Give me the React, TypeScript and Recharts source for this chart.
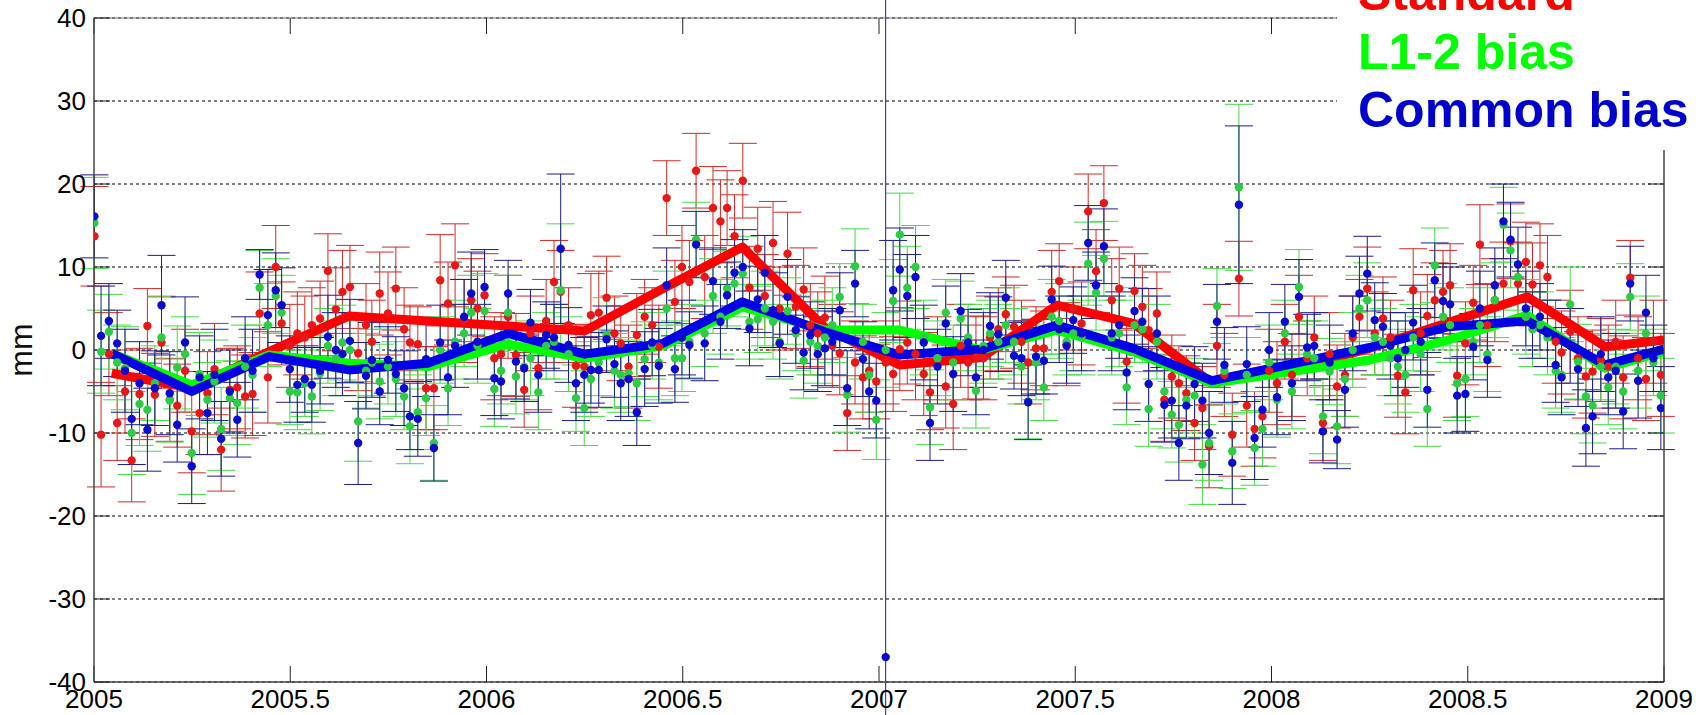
import { CartesianGrid, ComposedChart, ErrorBar, Line, Scatter, XAxis, YAxis } from "recharts";

// weekly solution epochs (decimal year)
const epochs = [
  2005.001, 2005.018, 2005.038, 2005.059, 2005.079, 2005.096, 2005.116, 2005.136, 2005.155, 2005.172,
  2005.193, 2005.212, 2005.232, 2005.249, 2005.269, 2005.289, 2005.307, 2005.324, 2005.346, 2005.365,
  2005.385, 2005.404, 2005.422, 2005.443, 2005.463, 2005.478, 2005.499, 2005.518, 2005.537, 2005.555,
  2005.576, 2005.596, 2005.616, 2005.633, 2005.652, 2005.673, 2005.693, 2005.708, 2005.728, 2005.749,
  2005.769, 2005.790, 2005.805, 2005.825, 2005.846, 2005.866, 2005.882, 2005.902, 2005.920, 2005.943,
  2005.961, 2005.977, 2005.995,
  2006.020, 2006.037, 2006.055, 2006.075, 2006.096, 2006.112, 2006.132, 2006.152, 2006.172, 2006.189,
  2006.209, 2006.228, 2006.249, 2006.266, 2006.286, 2006.306, 2006.326, 2006.342, 2006.362, 2006.383,
  2006.403, 2006.422, 2006.439, 2006.459, 2006.480, 2006.498, 2006.517, 2006.534, 2006.556, 2006.577,
  2006.596, 2006.613, 2006.632, 2006.653, 2006.670, 2006.691, 2006.709, 2006.730, 2006.747, 2006.767,
  2006.788, 2006.808, 2006.825, 2006.844, 2006.862, 2006.881, 2006.900, 2006.919, 2006.939, 2006.959,
  2006.975, 2006.993,
  2007.017, 2007.036, 2007.053, 2007.072, 2007.093, 2007.114, 2007.130, 2007.149, 2007.170, 2007.189,
  2007.208, 2007.227, 2007.247, 2007.266, 2007.283, 2007.304, 2007.323, 2007.344, 2007.363, 2007.380,
  2007.400, 2007.420, 2007.440, 2007.459, 2007.478, 2007.495, 2007.516, 2007.533, 2007.553, 2007.573,
  2007.593, 2007.612, 2007.631, 2007.651, 2007.671, 2007.687, 2007.708, 2007.727, 2007.746, 2007.764,
  2007.783, 2007.804, 2007.824, 2007.841, 2007.861, 2007.880, 2007.900, 2007.917, 2007.937, 2007.957,
  2007.977,
  2007.994, 2008.014, 2008.034, 2008.052, 2008.070, 2008.091, 2008.109, 2008.131, 2008.148, 2008.167,
  2008.187, 2008.207, 2008.224, 2008.244, 2008.263, 2008.284, 2008.303, 2008.322, 2008.341, 2008.361,
  2008.380, 2008.397, 2008.416, 2008.437, 2008.455, 2008.473, 2008.494, 2008.514, 2008.531, 2008.550,
  2008.569, 2008.591, 2008.609, 2008.628, 2008.648, 2008.665, 2008.684, 2008.703, 2008.724, 2008.739,
  2008.761, 2008.781, 2008.801, 2008.818, 2008.839, 2008.858, 2008.877, 2008.896, 2008.914, 2008.934,
  2008.954, 2008.973, 2008.992,
];

// mm
const standardMm = [
  13.7, -10.2, -0.5, -8.8, -5.0, -13.3, -5.3, 2.9, -5.4, 0.9,
  -6.0, -6.7, -2.5, -9.8, -7.6, -5.2, -2.3, -12.0, -4.8, -4.5,
  -5.6, -5.3, 4.4, -3.3, 10.0, 3.2, 0.5, 2.0, 1.5, 3.0,
  3.8, 9.5, 4.9, 7.0, 7.6, -0.4, 3.0, 1.0, 6.8, 4.4,
  7.4, 2.5, 0.9, 0.7, -4.6, -4.6, 8.4, 5.6, 10.2, 3.5,
  6.0, 5.0, 6.6,
  -1.0, -0.5, 4.0, -0.6, -4.8, 2.0, -2.2, 3.5, 8.2, 7.0,
  3.0, -1.9, -2.0, 4.2, 4.5, 6.3, 2.0, 0.8, -2.0, 1.8,
  4.0, 3.0, 0.4, 18.3, 5.8, 10.0, 8.2, 21.6, 8.8, 17.1,
  15.5, 17.1, 13.7, 20.4, 7.5, 12.2, 6.5, 12.9, 5.0, 11.6,
  5.2, 7.3, 3.0, 2.0, 3.9, 0.5, -0.4, -7.6, -1.5, -3.3,
  -2.5, -3.8,
  -1.5, -2.9, 0.1, 0.9, -0.5, -2.9, -5.1, -1.0, -4.4, -6.5,
  0.5, -1.5, -0.9, -1.0, 1.5, 2.5, 4.3, 2.8, 1.0, -1.5,
  0.2, 0.2, 7.0, 8.3, 0.7, 5.0, 3.2, 16.7, 9.5, 17.7,
  6.0, 7.4, -1.4, 7.1, 5.2, 2.4, 4.4, -6.0, -3.2, -4.0,
  -5.2, -8.8, -7.0, -11.6, 0.5, -3.0, -10.2, 8.6, -6.7, -9.5,
  -8.0,
  -2.5, -4.0, 1.0, -3.0, 4.0, -1.0, 1.5, -8.8, -0.5, -4.4,
  -3.0, 1.5, 4.0, 7.4, 2.0, 3.8, 1.5, -3.1, -5.1, 7.2,
  2.0, 4.1, 6.0, 7.0, 7.8, -3.1, 0.8, 5.7, 12.7, 3.0,
  6.0, 8.0, 13.1, 8.0, 10.6, 7.9, 10.2, 8.8, 1.0, -0.3,
  2.2, -1.0, -3.2, -2.6, -1.2, -2.0, 1.0, -3.3, 8.7, -1.0,
  -3.5, 1.0, -3.0,
];

const l12BiasMm = [
  15.3, -0.2, 2.2, -1.5, -2.2, -10.0, -6.5, -7.2, -4.0, 1.5,
  -6.1, -2.1, -0.5, -12.4, -2.9, -6.0, -3.8, -9.5, -5.8, -6.4,
  -2.0, -3.0, 7.5, 3.0, 6.5, 4.5, -5.0, -5.1, -4.0, -5.6,
  -2.8, 0.5, -1.0, 0.9, 0.0, -8.6, -2.5, -1.5, -3.8, -2.0,
  -3.5, -5.6, -9.2, -7.5, -5.8, -11.2, 0.0, -4.6, 1.0, 2.0,
  4.5, 0.5, 4.7,
  -4.7, -2.5, 4.5, -3.2, -2.0, -1.0, -5.1, 0.5, 1.0, 7.2,
  -0.5, -5.8, -7.0, -3.5, -1.5, 1.8, -2.5, -3.0, -2.8, -4.0,
  -1.1, 0.5, -1.5, 5.0, -1.0, -1.0, 1.0, 13.3, 2.0, 6.5,
  4.0, 7.4, 8.0, 9.2, 3.4, 3.7, 5.0, 3.4, 1.0, 4.7,
  2.0, -1.3, 1.0, 0.5, 1.5, 3.0, 6.4, -5.4, 10.1, 1.0,
  -3.0, -8.4,
  0.0, 5.9, 13.9, 7.5, 10.0, 1.5, -6.9, -1.0, 4.5, -1.5,
  3.8, 1.5, -4.9, 0.5, 2.0, 1.0, 3.0, 1.0, -2.0, -6.2,
  -1.5, -4.5, 4.0, 3.5, 1.0, 2.0, 1.5, 10.4, 6.9, 11.0,
  1.5, 2.0, -4.5, 3.0, 2.5, -7.1, 1.0, -5.0, -7.8, -9.0,
  -6.0, -5.5, -13.8, -11.2, 5.3, -2.5, -12.2, 19.6, -3.0, -11.8,
  -9.5,
  -1.5, -6.0, 2.0, -5.0, 7.6, -0.5, -1.0, -8.0, -2.6, -9.2,
  -3.5, 0.0, 5.0, 6.0, 1.5, 1.0, -1.0, -2.0, -3.0, 1.5,
  -0.5, -7.1, 10.2, 4.0, 3.0, -4.0, -3.5, 1.0, 3.0, -0.5,
  6.0, 15.1, 12.0, 8.8, 4.0, 2.5, 3.0, 1.5, -2.5, -3.0,
  5.5, -1.4, -5.6, -6.7, -2.0, -4.5, -2.0, -5.0, 6.4, -2.5,
  2.0, -1.5, -5.5,
];

const commonBiasMm = [
  16.1, 1.7, 3.5, 0.8, -2.5, -8.3, -4.0, -9.6, -4.6, 5.4,
  -5.2, -9.0, 0.9, -14.0, -3.3, -7.6, -3.0, -10.7, -5.0, -8.4,
  -1.0, -2.5, 9.1, 4.2, 7.2, 5.4, -2.3, -4.2, -3.5, -4.2,
  -2.5, 1.6, 0.0, -0.5, 1.1, -11.2, -3.1, -1.2, -5.0, -1.2,
  -2.9, -4.6, -8.0, -8.3, -1.1, -11.8, 0.9, -3.3, 0.5, 4.0,
  6.8, 1.0, 7.6,
  -3.4, -3.8, 6.8, -1.4, -2.2, 3.3, -3.0, 1.8, 1.5, 12.2,
  0.6, -4.0, -3.0, -2.4, -2.4, 1.3, -1.7, -4.0, -3.5, -7.5,
  -2.3, 0.9, -1.9, 7.8, -2.3, 1.5, 0.6, 12.7, 0.8, 8.3,
  3.4, 6.6, 9.3, 10.0, 2.6, 6.1, 9.3, 4.8, 0.8, 6.4,
  2.4, -0.3, 1.8, -0.5, 0.2, 1.0, 4.8, -4.6, 8.0, -1.1,
  -5.0, -6.1,
  -37.0, 7.2, 9.7, 6.5, 8.8, 0.9, -8.8, -2.0, 3.2, -2.9,
  4.7, 0.9, -3.3, 0.0, 2.9, 1.9, 6.3, -0.7, -1.0, -6.3,
  -0.8, -1.3, 6.1, 2.5, 0.5, 3.6, 2.0, 12.9, 7.8, 12.5,
  2.0, 3.0, -2.7, 4.7, 3.4, -4.1, 2.0, -6.6, -6.1, -11.2,
  -6.7, -4.1, -6.1, -10.0, 3.4, -1.8, -13.6, 17.5, -1.7, -10.6,
  -7.2,
  0.0, -5.7, 3.4, -4.0, 6.4, 0.3, 0.5, -9.8, -1.5, -10.8,
  -4.8, 2.0, 6.8, 9.2, 3.6, 2.8, 0.5, -1.0, 0.0, 3.3,
  1.0, -4.8, 8.4, 5.9, 5.5, -5.5, -5.3, 0.4, 5.0, -1.2,
  7.8, 15.5, 13.3, 10.3, 5.0, 3.0, 4.0, 2.0, -1.8, -3.3,
  0.5, -2.3, -9.4, -8.0, -0.5, -3.3, -2.5, -7.4, 8.0, -3.7,
  4.5, -1.0, -7.0,
];

// 1-sigma, mm
const standardErr = [
  6, 6.3, 5, 4.5, 5, 5, 5.5, 4.5, 5, 5.5,
  5, 5, 5, 5, 5, 5, 5.5, 5, 5, 5,
  5, 5, 5, 5.5, 5, 5, 5, 5, 5, 4.5,
  4.5, 4.5, 5, 5, 5, 4.5, 5, 5, 5, 5,
  5, 5, 4.5, 4.5, 5, 5, 5.5, 5, 5, 5,
  5, 4.5, 5,
  5, 5, 5, 5, 4.5, 4.5, 5, 5, 5, 5,
  4.5, 5, 5, 5, 5, 5, 4.5, 4.5, 5, 5,
  4.5, 4.5, 5, 4.5, 5, 5, 5, 4.5, 5, 5,
  5, 4.5, 5, 4.5, 5, 5, 5, 5, 5, 5,
  5, 5, 5, 5, 5, 5, 5, 4.5, 5, 5,
  5, 4.5,
  5, 4.5, 5, 5, 5.5, 5, 4.5, 5, 5, 5.5,
  5, 4.5, 5, 5, 5, 5, 4.5, 5, 5, 5,
  5, 4.5, 5, 4.5, 5, 5, 5, 4.5, 5, 4.5,
  5, 5, 5, 4.5, 5, 5, 5, 5, 5, 4.5,
  4.5, 4.5, 5, 5, 5, 5, 5, 4.5, 5, 4.5,
  5,
  5, 5, 4.5, 5, 5, 4.5, 5, 4.5, 5, 5,
  5, 5, 4.5, 5, 5, 5, 4.5, 5, 5, 5,
  5, 5, 4.5, 5, 5, 5, 5, 4.5, 4.8, 5,
  5, 5, 4.5, 5, 4.8, 5, 5, 5, 5, 5,
  5, 5, 5, 5, 5, 5, 5, 5, 4.5, 5,
  5, 5, 5,
];

const l12BiasErr = [
  5.5, 5, 4.5, 4.5, 5, 5, 5, 5, 4.5, 5,
  5, 5, 4.5, 5, 5, 4.5, 5, 5, 4.5, 5,
  5, 4.5, 4.5, 5, 4.5, 4.5, 4, 4.5, 4, 4.5,
  4.5, 4.5, 4.5, 4.5, 4, 4.8, 4.5, 4, 4.5, 4.5,
  4.5, 4, 4.5, 4.5, 4.5, 4.5, 4, 4.5, 4.5, 4,
  4.5, 4.5, 4.5,
  4.5, 4, 4.5, 4.5, 4, 4.5, 4.5, 4, 4.5, 8,
  4.5, 4, 4.5, 4.5, 4, 4.5, 4.5, 4.5, 4, 4.5,
  4.5, 4, 4.5, 4.5, 4.5, 4, 4.5, 4.5, 4, 4.5,
  4.5, 4.5, 4, 4.5, 4.5, 4, 4.5, 4.5, 4.5, 4,
  4.5, 4.5, 4, 4.5, 4.5, 4.5, 4, 4.5, 4.5, 4.5,
  4.5, 4.8,
  4.5, 5, 5, 5, 5, 4.5, 4.5, 4.5, 4, 4.5,
  4.5, 4, 4.5, 4.5, 4, 4.5, 4.5, 4, 4.5, 4.5,
  4.5, 4, 4.5, 4.5, 4, 4.5, 4.5, 5, 4.5, 4.5,
  4.5, 4, 4.5, 4.5, 4, 4.5, 4.5, 4.5, 4, 4.5,
  4.5, 4.5, 4.8, 4.5, 4.5, 4, 4.5, 10, 4.5, 4.5,
  4.5,
  4.5, 4.5, 4, 4.5, 4.5, 4, 4.5, 4.5, 4, 4.5,
  4.5, 4.5, 4, 4.5, 4.5, 4, 4.5, 4.5, 4.5, 4,
  4.5, 4.5, 4.5, 4, 4.5, 4.5, 4.5, 4, 4.5, 4.5,
  4.5, 4.5, 4.5, 4, 4.5, 4.5, 4, 4.5, 4.5, 4.5,
  4.5, 4.5, 4.5, 4.5, 4, 4.5, 4.5, 4.5, 4, 4.5,
  4.5, 4, 4.5,
];

const commonBiasErr = [
  5, 6, 4.5, 4, 5, 5.5, 5, 5, 4.5, 6,
  5, 4.5, 5.5, 4.5, 5, 5, 5.5, 4.5, 5, 4.5,
  5, 5, 3, 5.5, 4.5, 4.5, 4, 4.5, 4, 4.5,
  4, 5, 4.5, 5, 5, 5, 4, 4.5, 4, 4,
  4.5, 4.5, 4, 4.5, 4.5, 4, 4.5, 4.5, 5, 4.5,
  5, 4.5, 4.5,
  4.5, 4.5, 4, 4.5, 4, 4, 4.5, 4, 4, 9,
  4.5, 4.5, 4.5, 4, 4.5, 4, 4, 4.5, 4.5, 4,
  4.5, 4, 4.5, 4.5, 4, 4.5, 4, 4, 4.5, 4,
  4.5, 4, 4, 4.5, 4.5, 4, 4.5, 4.5, 4, 4.5,
  4, 4.5, 4, 4.5, 4.5, 4, 4.5, 4.5, 4, 4.5,
  4.5, 4.5,
  80, 6, 5, 5, 5, 4.5, 4.5, 4.5, 4.5, 4.5,
  4.5, 4, 4.5, 4.5, 4, 4.5, 4.5, 4, 4.5, 4.5,
  4.5, 4, 4, 4, 4.5, 4, 4.5, 4.5, 4, 4.5,
  4.5, 4, 4.5, 4, 4, 4.5, 4.5, 4.5, 4.5, 4.5,
  4, 4.5, 4.5, 5, 4.5, 4.5, 5, 9.5, 4.5, 5,
  4.5,
  4.5, 4.5, 4.5, 4.5, 4.5, 4, 4, 3.8, 4.5, 3.5,
  4.5, 4.5, 4.5, 4.5, 4.5, 4, 4, 4.5, 4.5, 4.5,
  4, 4.5, 4.5, 4.5, 4.5, 4.5, 4.5, 4, 4.5, 4.5,
  4.5, 4.5, 4.5, 4.5, 4.5, 4, 4, 4, 4.5, 4.5,
  4.5, 4.5, 4.6, 4.5, 4.5, 4.5, 4.5, 4.5, 4.5, 4.5,
  4.5, 4, 5,
];

// smoothed series (thick lines)
const trendEpochs = [
  2005.045, 2005.249, 2005.446, 2005.65, 2005.85, 2006.055, 2006.25, 2006.45, 2006.652, 2006.862,
  2007.052, 2007.262, 2007.453, 2007.648, 2007.848, 2008.05, 2008.25, 2008.45, 2008.652, 2008.85, 2009.0,
];
const standardTrend = [-2.8, -4.6, -0.2, 4.1, 3.5, 2.9, 2.3, 7.4, 12.4, 2.7, -1.8, -0.9, 5.4, 3.2, -4.0, -2.3, 0.2, 3.3, 6.4, 0.4, 1.2];
const l12BiasTrend = [-0.4, -4.2, -0.6, -1.6, -2.0, 0.7, -1.0, 0.5, 5.2, 2.4, 2.4, 0.0, 2.4, -0.2, -4.0, -2.6, -1.2, 1.2, 4.2, -2.2, -0.2];
const commonBiasTrend = [-0.4, -5.0, -0.8, -2.4, -1.6, 2.0, -0.5, 0.8, 5.8, 2.2, -0.6, 0.1, 3.0, 0.2, -3.7, -1.7, 0.3, 2.8, 3.5, -1.8, 0.1];

const xTicks = [2005, 2005.5, 2006, 2006.5, 2007, 2007.5, 2008, 2008.5, 2009];
const yTicks = [-40, -30, -20, -10, 0, 10, 20, 30, 40];

const FONT = '"Liberation Sans", Arial, Helvetica, sans-serif';

const toPoints = (vals: number[], errs: number[]) =>
  epochs.map((t, i) => ({ t, v: vals[i], e: errs[i] ?? 4.5 }));
const toTrend = (vals: number[]) => trendEpochs.map((t, i) => ({ t, v: vals[i] }));

const dotShape = (fill: string) => (props: any) =>
  <circle cx={props.cx} cy={props.cy} r={4.2} fill={fill} />;

const series = [
  { name: "Standard", pts: toPoints(standardMm, standardErr), trend: toTrend(standardTrend), line: "#ff0000", dot: "#e81818", bar: "#d02a2a" },
  { name: "L1-2 bias", pts: toPoints(l12BiasMm, l12BiasErr), trend: toTrend(l12BiasTrend), line: "#00ff00", dot: "#2ccc44", bar: "#44dd44" },
  { name: "Common bias", pts: toPoints(commonBiasMm, commonBiasErr), trend: toTrend(commonBiasTrend), line: "#0000e6", dot: "#0a0ad0", bar: "#1c1c8c" },
];

const App = () => {
  return (
    <div style={{ position: "absolute", left: 0, top: 0, width: 1705, height: 715, background: "#fff" }}>
      <ComposedChart width={1705} height={715} margin={{ top: 17, right: 40, bottom: 0, left: 34 }}>
        <CartesianGrid xAxisId="x" yAxisId="left" vertical={false} stroke="#000" strokeDasharray="3 3" />
        <XAxis
          xAxisId="x"
          type="number"
          dataKey="t"
          domain={[2005, 2009]}
          ticks={xTicks}
          allowDataOverflow
          height={33}
          axisLine={{ stroke: "#444", strokeWidth: 1.5 }}
          tickLine={{ stroke: "#222" }}
          tickSize={-16}
          tickMargin={24}
          tick={{ fontSize: 26, fill: "#000", fontFamily: FONT }}
        />
        <XAxis
          xAxisId="top"
          orientation="top"
          type="number"
          dataKey="t"
          domain={[2005, 2009]}
          ticks={xTicks}
          allowDataOverflow
          height={1}
          axisLine={{ stroke: "#777" }}
          tickLine={{ stroke: "#222" }}
          tickSize={-16}
          tick={() => <g />}
        />
        <YAxis
          yAxisId="left"
          type="number"
          domain={[-40, 40]}
          ticks={yTicks}
          allowDataOverflow
          width={60}
          axisLine={{ stroke: "#444", strokeWidth: 1.5 }}
          tickLine={{ stroke: "#222" }}
          tickSize={-16}
          tickMargin={24}
          tick={{ fontSize: 26, fill: "#000", fontFamily: FONT }}
        />
        <YAxis
          yAxisId="right"
          orientation="right"
          type="number"
          domain={[-40, 40]}
          ticks={yTicks}
          allowDataOverflow
          width={1}
          axisLine={{ stroke: "#444", strokeWidth: 1.5 }}
          tickLine={{ stroke: "#222" }}
          tickSize={-16}
          tick={() => <g />}
        />
        {series.map((s) => (
          <Scatter
            key={`pts-${s.name}`}
            xAxisId="x"
            yAxisId="left"
            data={s.pts}
            dataKey="v"
            shape={dotShape(s.dot)}
            isAnimationActive={false}
          >
            <ErrorBar dataKey="e" direction="y" width={14} stroke={s.bar} strokeWidth={1} />
          </Scatter>
        ))}
        {series.map((s) => (
          <Line
            key={`trend-${s.name}`}
            xAxisId="x"
            yAxisId="left"
            data={s.trend}
            dataKey="v"
            type="linear"
            stroke={s.line}
            strokeWidth={9}
            strokeLinejoin="round"
            dot={false}
            activeDot={false}
            isAnimationActive={false}
          />
        ))}
      </ComposedChart>
      <svg width={1705} height={715} style={{ position: "absolute", left: 0, top: 0, pointerEvents: "none" }}>
        <text x={32} y={350} transform="rotate(-90 32 350)" textAnchor="middle" fontSize={32} fontFamily={FONT} fill="#111">
          mm
        </text>
        <rect x={1337} y={0} width={368} height={150} fill="#fff" />
        <text x={1358} y={10} fontSize={50} fontWeight="bold" fontFamily={FONT} fill="#ff0000">Standard</text>
        <text x={1358} y={69} fontSize={50} fontWeight="bold" fontFamily={FONT} fill="#00ff00">L1-2 bias</text>
        <text x={1358} y={127} fontSize={50} fontWeight="bold" fontFamily={FONT} fill="#0000cc">Common bias</text>
      </svg>
    </div>
  );
};

export default App;
